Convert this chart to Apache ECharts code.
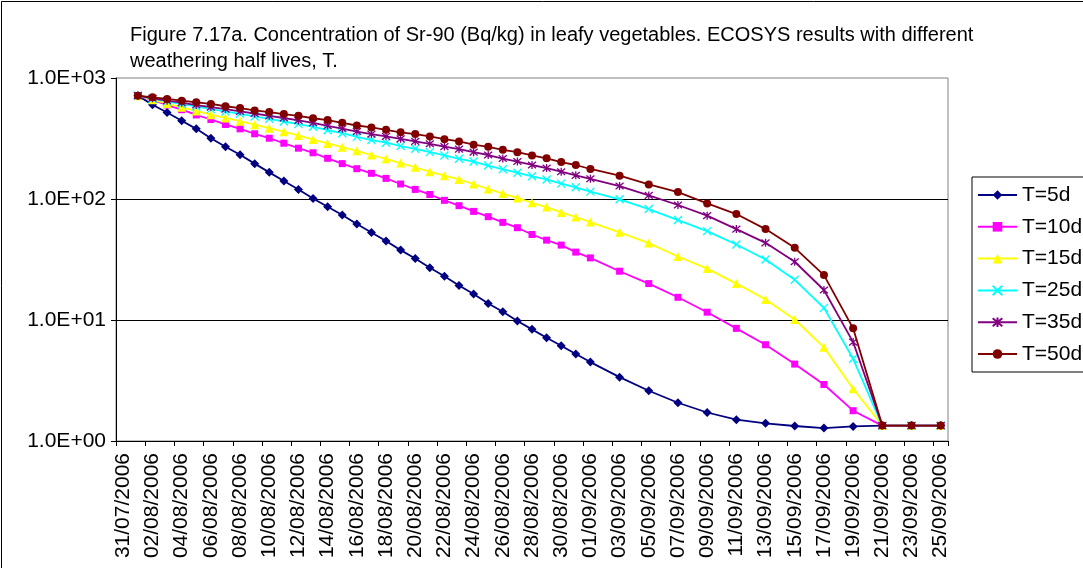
<!DOCTYPE html>
<html>
<head>
<meta charset="utf-8">
<script src="https://cdn.jsdelivr.net/npm/echarts@6/dist/echarts.min.js"></script>
<style>
html,body{margin:0;padding:0;background:#fff;}
#c{width:1083px;height:568px;}
</style>
</head>
<body>
<div id="c"></div>
<script>
// Category axis: every day from 31/07/2006 to 25/09/2006
const dates = [
 '31/07/2006','01/08/2006','02/08/2006','03/08/2006','04/08/2006','05/08/2006','06/08/2006','07/08/2006',
 '08/08/2006','09/08/2006','10/08/2006','11/08/2006','12/08/2006','13/08/2006','14/08/2006','15/08/2006',
 '16/08/2006','17/08/2006','18/08/2006','19/08/2006','20/08/2006','21/08/2006','22/08/2006','23/08/2006',
 '24/08/2006','25/08/2006','26/08/2006','27/08/2006','28/08/2006','29/08/2006','30/08/2006','31/08/2006',
 '01/09/2006','02/09/2006','03/09/2006','04/09/2006','05/09/2006','06/09/2006','07/09/2006','08/09/2006',
 '09/09/2006','10/09/2006','11/09/2006','12/09/2006','13/09/2006','14/09/2006','15/09/2006','16/09/2006',
 '17/09/2006','18/09/2006','19/09/2006','20/09/2006','21/09/2006','22/09/2006','23/09/2006','24/09/2006',
 '25/09/2006'
];
// Dates on which results were plotted
const sampleDates = [
 '01/08/2006','02/08/2006','03/08/2006','04/08/2006','05/08/2006','06/08/2006','07/08/2006','08/08/2006',
 '09/08/2006','10/08/2006','11/08/2006','12/08/2006','13/08/2006','14/08/2006','15/08/2006','16/08/2006',
 '17/08/2006','18/08/2006','19/08/2006','20/08/2006','21/08/2006','22/08/2006','23/08/2006','24/08/2006',
 '25/08/2006','26/08/2006','27/08/2006','28/08/2006','29/08/2006','30/08/2006','31/08/2006','01/09/2006',
 '03/09/2006','05/09/2006','07/09/2006','09/09/2006','11/09/2006','13/09/2006','15/09/2006','17/09/2006',
 '19/09/2006','21/09/2006','23/09/2006','25/09/2006'
];
const seriesNames = ['T=5d','T=10d','T=15d','T=25d','T=35d','T=50d'];
const yTickLabels = ['1.0E+00','1.0E+01','1.0E+02','1.0E+03'];

const t5 = [715,601,519,443,380,318,270,232,196,166,141,120,101,86.4,73.7,62.1,52.9,44.9,37.8,32.2,27.0,23.0,19.3,
 16.4,13.7,11.7,9.8,8.37,7.14,6.13,5.23,4.49,3.37,2.60,2.07,1.72,1.50,1.40,1.33,1.28,1.32,1.34,1.34,1.34];
const t10 = [715,655,598,547,495,454,413,380,346,318,289,263,241,217,196,178,163,148,133,120,109,97.5,88.1,
 79.0,71.4,64.1,57.9,50.9,45.7,41.6,36.4,32.6,25.3,20.0,15.4,11.6,8.53,6.25,4.32,2.93,1.78,1.34,1.34,1.34];
const t15 = [715,662,615,572,534,498,468,440,411,385,360,335,310,288,268,250,231,215,198,183,168,156,145,
 133,121,111,102,93,85.8,77.5,71.0,64.5,53.0,43.2,33.5,26.6,20.0,14.8,10.1,5.94,2.70,1.34,1.34,1.34];
const t25 = [715,672,641,609,582,553,529,506,481,460,437,416,395,370,350,326,307,292,274,260,244,229,215,
 204,189,176,165,154,145,134,125,115,99.4,82.6,67.0,54.3,42.1,31.6,21.5,12.6,4.78,1.34,1.34,1.34];
const t35 = [715,680,650,625,598,575,553,530,509,487,467,446,426,403,381,361,344,329,314,299,286,271,258,
 244,231,216,204,191,180,168,157,147,128,107,89.2,72.8,56.4,43.4,30.3,17.7,6.57,1.34,1.34,1.34];
const t50 = [715,692,672,649,630,610,584,564,540,523,503,487,465,449,426,405,390,373,356,344,329,312,299,
 281,270,255,244,229,217,202,191,177,156,132,114,92,75.1,56.4,39.5,23.5,8.53,1.34,1.34,1.34];

const allValues = [t5,t10,t15,t25,t35,t50];
const colors = ['#000080','#FF00FF','#FFFF00','#00FFFF','#800080','#800000'];
const symbols = ['diamond','rect','triangle',
  'path://M0,0L10,10M10,0L0,10',
  'path://M0,0L10,10M10,0L0,10M5,-1L5,11',
  'circle'];
const symbolSizes = [9,7,9,8,8,8];

const FONT = '"Liberation Sans", Arial, sans-serif';

const series = seriesNames.map((name, i) => ({
  name: name,
  type: 'line',
  data: sampleDates.map((d, j) => [d, allValues[i][j]]),
  connectNulls: true,
  symbol: symbols[i],
  symbolSize: symbolSizes[i],
  showAllSymbol: true,
  animation: false,
  lineStyle: {color: colors[i], width: 1.8},
  itemStyle: {color: colors[i], borderColor: colors[i], borderWidth: (i === 3 || i === 4) ? 1.3 : 0},
  z: 2 + i
}));

const chart = echarts.init(document.getElementById('c'), null, {renderer: 'canvas'});
chart.setOption({
  backgroundColor: '#ffffff',
  animation: false,
  textStyle: {fontFamily: FONT},
  title: {
    text: 'Figure 7.17a. Concentration of Sr-90 (Bq/kg) in leafy vegetables. ECOSYS results with different\nweathering half lives, T.',
    left: 125, top: 17,
    textStyle: {fontFamily: FONT, fontSize: 20, fontWeight: 'normal', color: '#000', lineHeight: 26}
  },
  legend: {
    orient: 'vertical',
    left: 972, top: 177,
    padding: [7, 20, 7, 5],
    itemWidth: 39, itemHeight: 12, itemGap: 9.8,
    borderColor: '#000', borderWidth: 1, backgroundColor: '#fff',
    textStyle: {fontFamily: FONT, fontSize: 21, color: '#000', lineHeight: 22},
    data: seriesNames
  },
  grid: {
    left: 116, top: 78, right: 135, bottom: 127,
    show: true, borderColor: '#808080', borderWidth: 1, backgroundColor: '#fff'
  },
  xAxis: {
    type: 'category',
    data: dates,
    boundaryGap: true,
    axisLine: {lineStyle: {color: '#000', width: 1}},
    axisTick: {show: true, interval: 1, length: 5, lineStyle: {color: '#000'}},
    axisLabel: {interval: 1, rotate: 90, margin: 12, fontSize: 21, color: '#000', fontFamily: FONT},
    splitLine: {show: false}
  },
  yAxis: {
    type: 'log',
    logBase: 10,
    min: 1, max: 1000,
    axisLine: {show: true, lineStyle: {color: '#000', width: 1}},
    axisTick: {show: true, length: 5, lineStyle: {color: '#000'}},
    axisLabel: {
      fontSize: 21, color: '#000', fontFamily: FONT, margin: 10,
      formatter: v => yTickLabels[Math.round(Math.log10(v))]
    },
    splitLine: {show: true, showMinLine: false, showMaxLine: false, lineStyle: {color: '#000', width: 1}}
  },
  graphic: [{
    type: 'rect', silent: true, z: 100,
    shape: {x: 1.5, y: 1.5, width: 1200, height: 700},
    style: {fill: 'none', stroke: '#000', lineWidth: 1}
  }],
  series: series
});
</script>
</body>
</html>
